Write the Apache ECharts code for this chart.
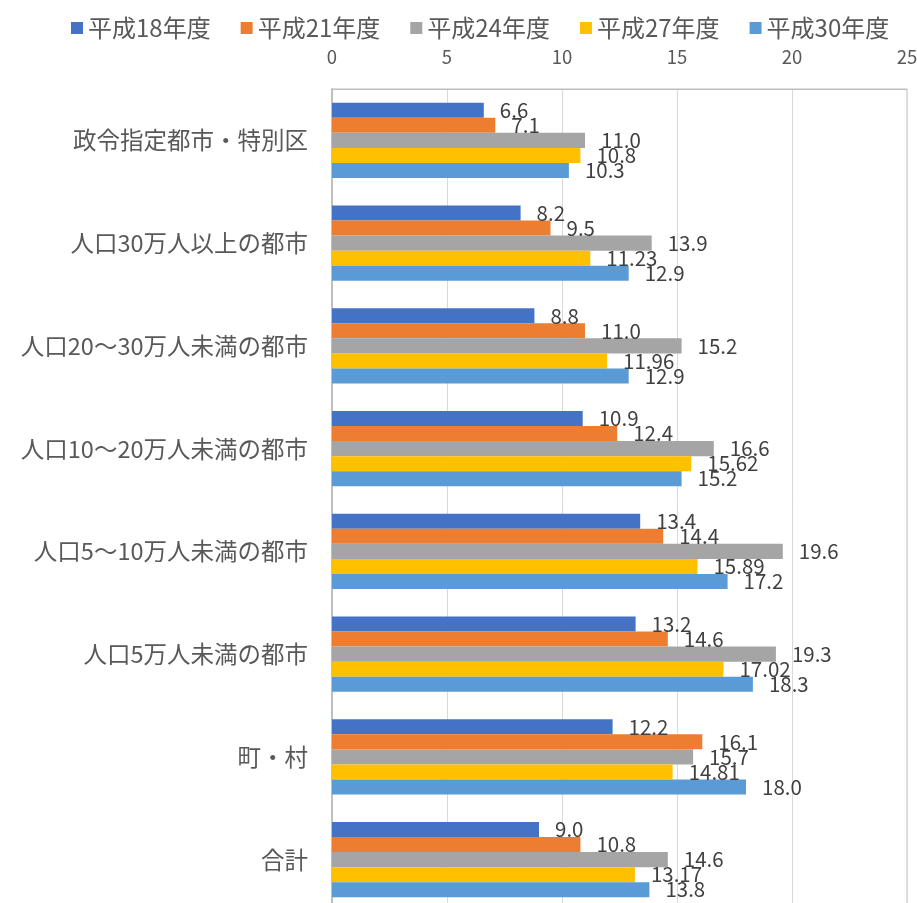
<!DOCTYPE html>
<html>
<head>
<meta charset="utf-8">
<script src="https://cdn.jsdelivr.net/npm/echarts@6/dist/echarts.min.js"></script>
<style>
html,body{margin:0;padding:0;background:#fff;}
#c{width:917px;height:903px;}
</style>
</head>
<body>
<div id="c"></div>
<script>
const categories = ["政令指定都市・特別区","人口30万人以上の都市","人口20～30万人未満の都市","人口10～20万人未満の都市","人口5～10万人未満の都市","人口5万人未満の都市","町・村","合計"];
const seriesNames = ["平成18年度","平成21年度","平成24年度","平成27年度","平成30年度"];
const h18 = [6.6, 8.2, 8.8, 10.9, 13.4, 13.2, 12.2, 9.0];
const h21 = [7.1, 9.5, 11.0, 12.4, 14.4, 14.6, 16.1, 10.8];
const h24 = [11.0, 13.9, 15.2, 16.6, 19.6, 19.3, 15.7, 14.6];
const h27 = [10.8, 11.23, 11.96, 15.62, 15.89, 17.02, 14.81, 13.17];
const h30 = [10.3, 12.9, 12.9, 15.2, 17.2, 18.3, 18.0, 13.8];
const xTicks = [0, 5, 10, 15, 20, 25];

const colors = ["#4472C4","#ED7D31","#A5A5A5","#FFC000","#5B9BD5"];
const dataSets = [h18, h21, h24, h27, h30];
const FONT = '"Noto Sans CJK JP", "Noto Sans", sans-serif';

const chart = echarts.init(document.getElementById('c'), null, {renderer:'canvas'});
const series = dataSets.map((d, i) => ({
  name: seriesNames[i],
  type: 'bar',
  data: d,
  barGap: '0%',
  barCategoryGap: '27%',
  itemStyle: { color: colors[i] },
  label: {
    show: true,
    position: 'right',
    distance: 16,
    color: '#404040',
    fontSize: 20.5,
    fontFamily: FONT,
    formatter: p => (i === 3 ? String(p.value) : p.value.toFixed(1))
  },
  animation: false
}));

chart.setOption({
  animation: false,
  textStyle: { fontFamily: FONT },
  legend: {
    top: 11,
    left: 66,
    itemWidth: 12,
    itemHeight: 12,
    itemGap: 30,
    icon: 'rect',
    textStyle: { fontSize: 24, color: '#595959', fontFamily: FONT },
    data: seriesNames
  },
  grid: {
    left: 332,
    top: 89,
    width: 575,
    height: 822,
    outerBoundsMode: 'none',
    show: true,
    borderColor: '#BFBFBF',
    borderWidth: 1,
    backgroundColor: 'transparent'
  },
  xAxis: {
    type: 'value',
    position: 'top',
    min: xTicks[0],
    max: xTicks[xTicks.length - 1],
    interval: 5,
    axisLine: { show: true, lineStyle: { color: '#BFBFBF', width: 1 } },
    axisTick: { show: false },
    axisLabel: { fontSize: 18.5, color: '#595959', margin: 23, fontFamily: FONT },
    splitLine: { show: true, lineStyle: { color: '#D9D9D9', width: 1 } }
  },
  yAxis: {
    type: 'category',
    inverse: true,
    data: categories,
    axisLine: { show: true, lineStyle: { color: '#BFBFBF', width: 2 } },
    axisTick: { show: false },
    axisLabel: { fontSize: 23.5, color: '#595959', margin: 24, fontFamily: FONT }
  },
  series: series
});
</script>
</body>
</html>
